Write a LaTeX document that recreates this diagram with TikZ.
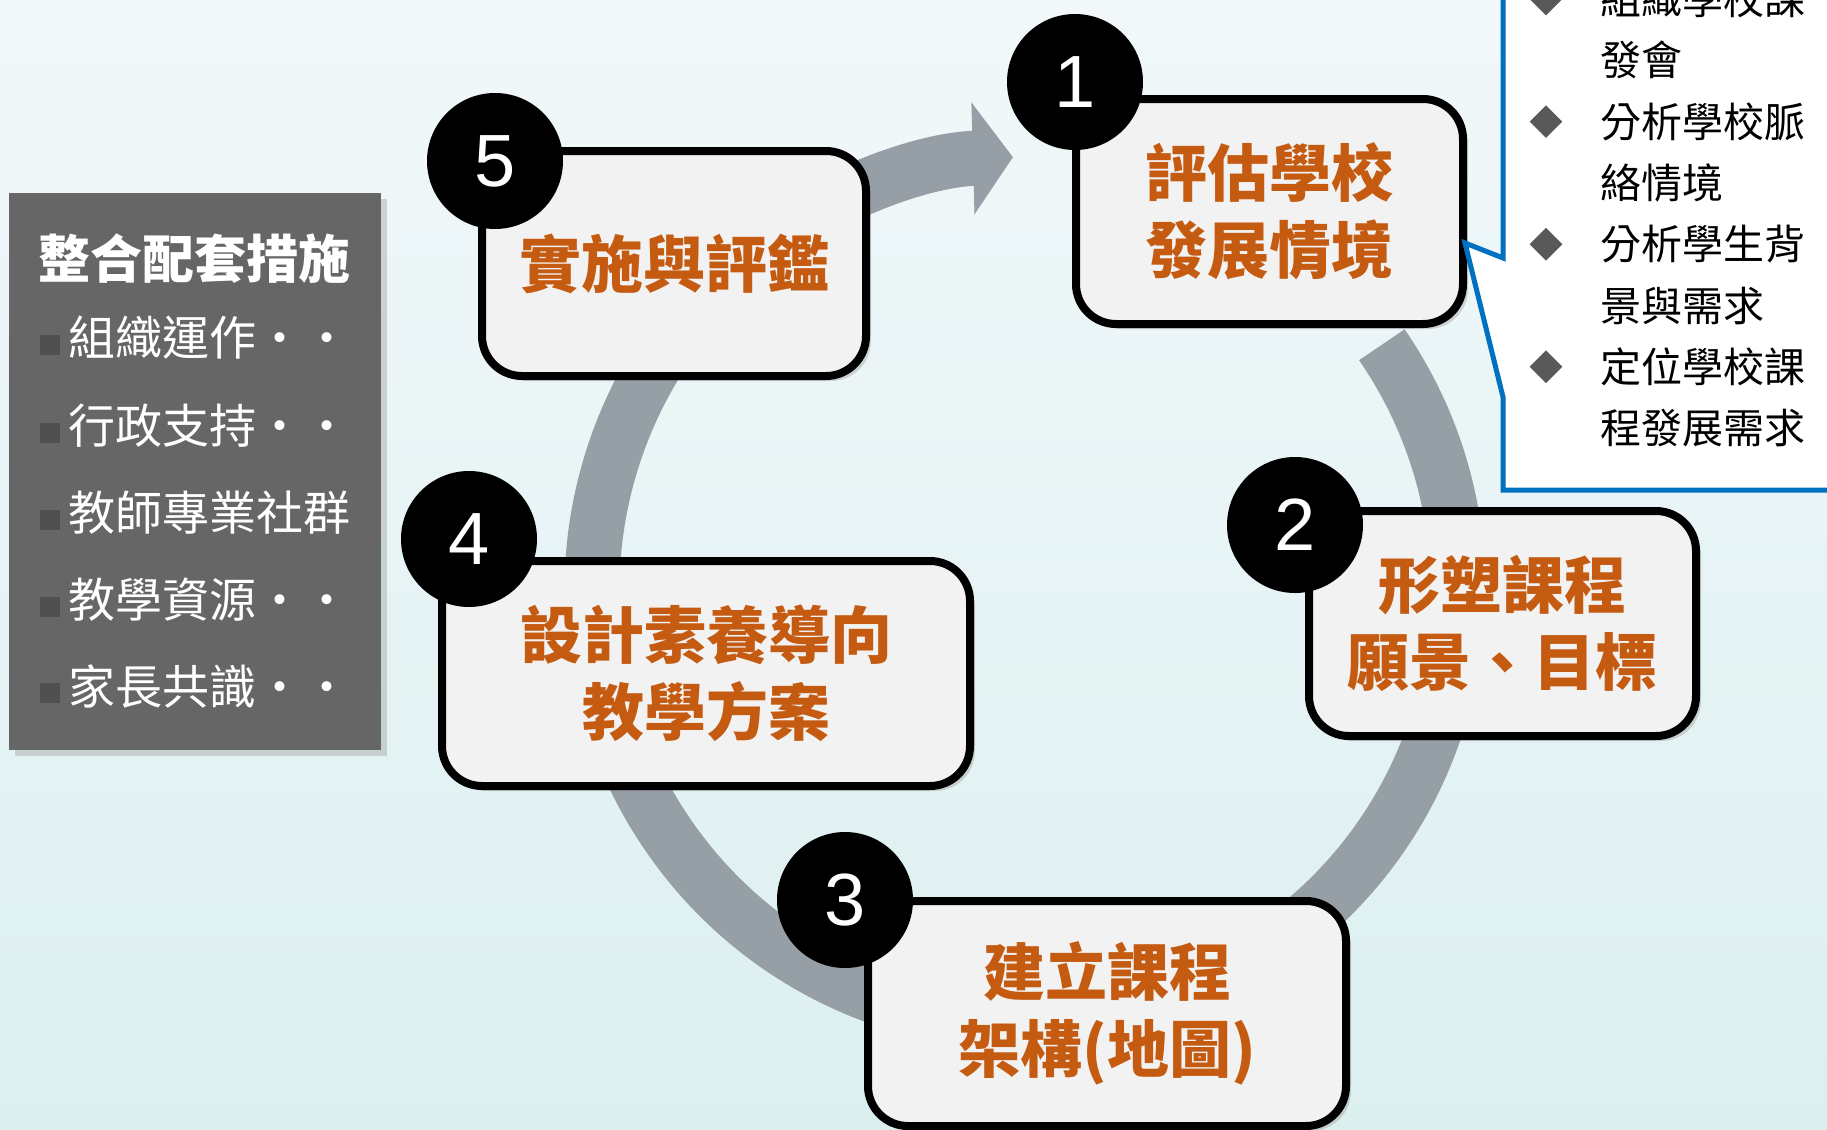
\documentclass[tikz,border=0pt]{standalone}
\usepackage{fontspec}
\setmainfont{Liberation Sans}
\newfontfamily\cjk{Noto Sans CJK TC}
\usetikzlibrary{arrows.meta}
\usetikzlibrary{shadows}
\usetikzlibrary{shapes.geometric}

\definecolor{ringgray}{RGB}{150,158,166}
\definecolor{stepfill}{RGB}{242,242,242}
\definecolor{steptext}{RGB}{197,90,17}
\definecolor{panelgray}{RGB}{102,102,102}
\definecolor{bulletgray}{RGB}{80,80,80}
\definecolor{markgray}{RGB}{89,89,89}
\definecolor{calloutblue}{RGB}{0,112,192}
\definecolor{bgtop}{RGB}{242,248,250}
\definecolor{bgbottom}{RGB}{220,239,239}

\tikzset{
  stepbox/.style={%
    draw,
    line width=4pt,
    fill=stepfill,
    rounded corners=20pt,
    minimum height=112.5pt,
    align=center,
    text=steptext,
    font=\cjk\bfseries\fontsize{31}{38.5}\selectfont,
    drop shadow={shadow xshift=2.5pt,shadow yshift=-2.5pt,opacity=0.3}
  },
  badge/.style={%
    circle,
    fill=black,
    minimum size=68pt,
    inner sep=0pt,
    text=white,
    font=\fontsize{37}{40}\selectfont
  },
  ring/.style={%
    draw=ringgray,
    line width=27.5pt,
    -{Triangle[length=20pt,width=55pt]}
  },
  panel/.style={%
    fill=panelgray,
    minimum width=186pt,
    minimum height=278.5pt,
    drop shadow={shadow xshift=3pt,shadow yshift=-3pt,opacity=0.3}
  },
  paneltitle/.style={text=white, inner sep=0pt, font=\cjk\bfseries\fontsize{26}{30}\selectfont},
  panelitem/.style={text=white, anchor=west, inner sep=0pt, font=\cjk\fontsize{23.5}{28}\selectfont},
  bullet/.style={fill=bulletgray, minimum size=10pt, inner sep=0pt},
  callout/.style={draw=calloutblue, line width=2.5pt, fill=white},
  notetext/.style={anchor=west, inner sep=0pt, font=\cjk\fontsize{20.5}{24}\selectfont},
  diamondmark/.style={diamond, fill=markgray, minimum size=16.5pt, inner sep=0pt}
}

\begin{document}
\begin{tikzpicture}[x=0.5pt,y=-0.5pt]
  \useasboundingbox (0,0) rectangle (1827,1130);
  \clip (0,0) rectangle (1827,1130);
  \shade[top color=bgtop, bottom color=bgbottom] (0,0) rectangle (1827,1130);

  % circular arrow behind the steps
  \coordinate (hub) at (1025,590);
  \draw[ring] (hub) ++(-34.5:433) arc[start angle=-34.5, end angle=268.4, radius=433];

  % left panel
  \node[panel] (panel) at (195,471.5) {};
  \node[paneltitle] (title) at (195,259) {整合配套措施};
  \foreach \y/\txt [count=\n] in {338/組織運作‧‧, 426/行政支持‧‧, 513/教師專業社群, 600/教學資源‧‧, 686/家長共識‧‧} {%
    \node[bullet] (bul\n) at (50,\y+7) {};
    \node[panelitem] (item\n) at (68,\y) {\txt};
  }

  % steps
  \node[stepbox, minimum width=193.5pt] (step1) at (1269.5,211.5) {評估學校\\發展情境};
  \node[stepbox, minimum width=193.5pt] (step2) at (1502.5,623.5) {形塑課程\\願景、目標};
  \node[stepbox, minimum width=239pt] (step3) at (1107,1013.5) {建立課程\\架構(地圖)};
  \node[stepbox, minimum width=264pt] (step4) at (706,673.5) {設計素養導向\\教學方案};
  \node[stepbox, minimum width=192pt] (step5) at (674,263.5) {實施與評鑑};

  \node[badge] (num1) at (1075,82) {1};
  \node[badge] (num2) at (1295,525) {2};
  \node[badge] (num3) at (845,900) {3};
  \node[badge] (num4) at (469,539) {4};
  \node[badge] (num5) at (495,161) {5};

  % note on step 1
  \coordinate (tip) at (1465,243);
  \draw[callout] (tip) -- (1503,258) -- (1503,-30) -- (1860,-30) -- (1860,490)
    -- (1503,490) -- (1503,397) -- cycle;
  \foreach \txt [count=\n from 0] in {組織學校課,發會,分析學校脈,絡情境,分析學生背,景與需求,定位學校課,程發展需求}
    \node[notetext] (line\n) at (1600,-1+61.3*\n) {\txt};
  \foreach \n in {0,2,4,6}
    \node[diamondmark] (mark\n) at (1546,-1+61.3*\n) {};
\end{tikzpicture}
\end{document}
